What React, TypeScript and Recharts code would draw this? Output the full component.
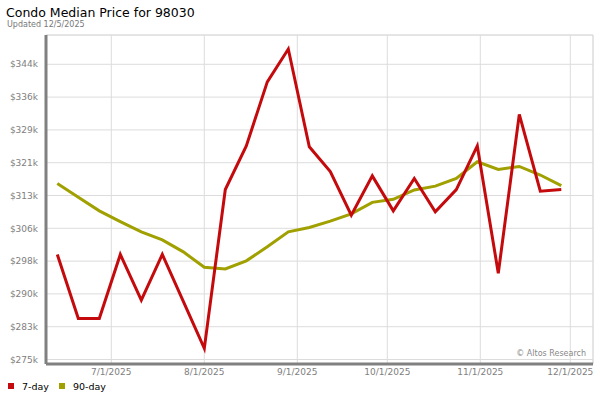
import React from 'react';
import { LineChart, Line, XAxis, YAxis, CartesianGrid, Legend, ReferenceLine } from 'recharts';

const dates = [
  '2025-06-13', '2025-06-20', '2025-06-27', '2025-07-04', '2025-07-11', '2025-07-18', '2025-07-25',
  '2025-08-01', '2025-08-08', '2025-08-15', '2025-08-22', '2025-08-29', '2025-09-05', '2025-09-12',
  '2025-09-19', '2025-09-26', '2025-10-03', '2025-10-10', '2025-10-17', '2025-10-24', '2025-10-31',
  '2025-11-07', '2025-11-14', '2025-11-21', '2025-11-28',
];

// values in $ thousands
const sevenDay = [
  299.6, 284.6, 284.6, 299.6, 288.9, 299.6, 288.6,
  277.6, 314.8, 325.0, 340.0, 347.7, 324.8, 319.0,
  308.8, 318.0, 309.8, 317.4, 309.6, 314.8, 325.0,
  295.2, 332.4, 314.4, 314.8,
];

const ninetyDay = [
  316.2, 313.0, 309.8, 307.3, 304.9, 303.0, 300.2,
  296.6, 296.2, 298.1, 301.4, 304.9, 305.9, 307.4,
  309.1, 311.8, 312.5, 314.7, 315.6, 317.4, 321.3,
  319.5, 320.2, 318.2, 315.7,
];

const xTickDates = ['2025-07-01', '2025-08-01', '2025-09-01', '2025-10-01', '2025-11-01', '2025-12-01'];
const yTicks = [275, 282.68, 290.36, 298.04, 305.72, 313.4, 321.08, 328.76, 336.44, 344.12];
const yDomain = [273.95, 350.98];
const xDomainDates = ['2025-06-09T05:30:00Z', '2025-12-08T13:40:00Z'];
const legendOrder = ['7-day', '90-day'];

const toTs = (s: string) => Date.parse(s.length === 10 ? s + 'T00:00:00Z' : s);

const data = dates.map((d, i) => ({ t: toTs(d), d7: sevenDay[i], d90: ninetyDay[i] }));
const xTicks = xTickDates.map(toTs);
const xDomain = xDomainDates.map(toTs);

const fmtDate = (v: number) => {
  const d = new Date(v);
  return `${d.getUTCMonth() + 1}/${d.getUTCDate()}/${d.getUTCFullYear()}`;
};
const fmtY = (v: number) => `$${Math.round(v)}k`;

const FONT = 'DejaVu Sans';
const RED = '#c40a0c';
const OLIVE = '#a0a000';
const GRID = '#dcdcdc';
const AXIS = '#808080';

const renderLegend = (props: any) => {
  const payload = [...(props.payload || [])].sort(
    (a: any, b: any) => legendOrder.indexOf(a.value) - legendOrder.indexOf(b.value)
  );
  return (
    <div style={{ display: 'flex', alignItems: 'center', fontFamily: FONT, fontSize: 9.5, color: '#000', lineHeight: 1 }}>
      {payload.map((p: any, i: number) => (
        <div key={i} style={{ display: 'flex', alignItems: 'center', marginRight: 10 }}>
          <span style={{ width: 6, height: 6, background: p.color, marginRight: 8, display: 'inline-block' }} />
          <span>{p.value}</span>
        </div>
      ))}
    </div>
  );
};

export default function App() {
  return (
    <div style={{ position: 'absolute', left: 0, top: 0, width: 600, height: 400, background: '#fff', overflow: 'hidden' }}>
      <div style={{ position: 'absolute', left: 6, top: 6.5, fontFamily: FONT, fontSize: 12.5, lineHeight: 1, color: '#000', whiteSpace: 'nowrap' }}>
        Condo Median Price for 98030
      </div>
      <div style={{ position: 'absolute', left: 7, top: 20.5, fontFamily: FONT, fontSize: 8, lineHeight: 1, color: '#777', whiteSpace: 'nowrap' }}>
        Updated 12/5/2025
      </div>
      <LineChart width={600} height={400} data={data} margin={{ top: 35, right: 7, bottom: 6, left: 0 }}>
        <CartesianGrid stroke={GRID} strokeWidth={1} />
        <ReferenceLine y={yDomain[1]} stroke={GRID} strokeWidth={1} />
        <ReferenceLine x={xDomain[1]} stroke={GRID} strokeWidth={1} />
        <XAxis
          dataKey="t"
          type="number"
          domain={xDomain}
          allowDataOverflow
          ticks={xTicks}
          interval={0}
          tickFormatter={fmtDate}
          height={30}
          axisLine={{ stroke: AXIS, strokeWidth: 3 }}
          tickLine={false}
          tickSize={4}
          tickMargin={1}
          tick={{ fill: AXIS, fontSize: 9, fontFamily: FONT }}
        />
        <YAxis
          type="number"
          domain={yDomain}
          allowDataOverflow
          ticks={yTicks}
          interval={0}
          tickFormatter={fmtY}
          width={46}
          axisLine={{ stroke: AXIS, strokeWidth: 3 }}
          tickLine={false}
          tickSize={6}
          tickMargin={2}
          tick={{ fill: AXIS, fontSize: 9, fontFamily: FONT }}
        />
        <Legend
          layout="horizontal"
          verticalAlign="middle"
          align="center"
          content={renderLegend}
          wrapperStyle={{ position: 'absolute', left: 8, top: 381.5, width: 200, height: 10 }}
        />
        <Line
          name="90-day"
          dataKey="d90"
          type="linear"
          stroke={OLIVE}
          strokeWidth={3}
          dot={false}
          activeDot={false}
          isAnimationActive={false}
        />
        <Line
          name="7-day"
          dataKey="d7"
          type="linear"
          stroke={RED}
          strokeWidth={3}
          dot={false}
          activeDot={false}
          isAnimationActive={false}
        />
      </LineChart>
      <div style={{ position: 'absolute', right: 14, top: 350, fontFamily: FONT, fontSize: 8, lineHeight: 1, color: '#888', whiteSpace: 'nowrap' }}>
        © Altos Research
      </div>
    </div>
  );
}
